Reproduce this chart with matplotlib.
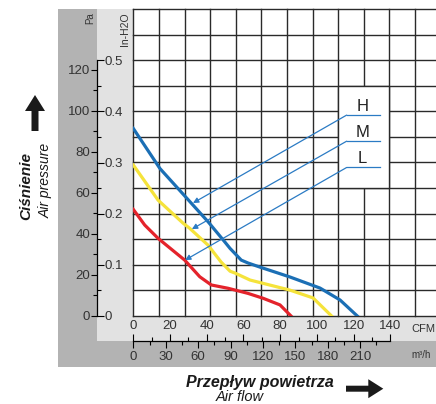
import matplotlib
matplotlib.use('Agg')
import matplotlib.pyplot as plt
from matplotlib.patches import Rectangle, FancyArrow
from matplotlib.ticker import FixedLocator, FixedFormatter

plt.rcParams['font.family'] = ['Liberation Sans', 'DejaVu Sans']

# ---------------- data (CFM, Pa) ----------------
h_cfm = [0, 14.5, 30.9, 40.8, 49.8, 52.7, 58.8, 62.5, 69.0, 85.3, 101.7, 112.6, 122.0]
h_pa = [91.3, 71.8, 55.6, 45.8, 36.1, 32.9, 27.2, 25.8, 23.8, 19.0, 13.6, 7.8, 0]

m_cfm = [0, 13.5, 27.1, 30.7, 40.7, 47.8, 52.7, 55.4, 63.6, 85.3, 97.9, 108.0]
m_pa = [73.5, 56.4, 45.2, 42.7, 34.5, 26.3, 21.8, 20.9, 17.5, 12.6, 8.8, 0]

l_cfm = [0, 6.2, 13.5, 28.0, 36.2, 42.5, 51.6, 62.5, 70.8, 79.9, 85.9]
l_pa = [51.9, 44.3, 37.8, 27.2, 19.1, 15.1, 13.5, 11.0, 8.6, 5.4, 0]

series_names = ['H', 'M', 'L']
series_colors = ['#1b6fb5', '#f5e33b', '#e4232b']

cfm_ticks = [0, 20, 40, 60, 80, 100, 120, 140]
cfm_minor = [10, 30, 50, 70, 90, 110, 130]
m3h_ticks = [0, 30, 60, 90, 120, 150, 180, 210]
m3h_minor = [15, 45, 75, 105, 135, 165, 195, 225]
pa_ticks = [0, 20, 40, 60, 80, 100, 120]
pa_minor = [10, 30, 50, 70, 90, 110]
inh2o_ticks = [0, 0.1, 0.2, 0.3, 0.4, 0.5]
inh2o_labels = ['0', '0.1', '0.2', '0.3', '0.4', '0.5']
inh2o_minor = [0.05, 0.15, 0.25, 0.35, 0.45]

# leader annotations: (label pos), (underline y), (arrow tip)
lab_x = 124.9
lab_y = [102.2, 89.2, 76.7]
line_y = [97.8, 85.1, 72.3]
line_x0, line_x1 = 116.2, 134.4
tips = [(32.5, 55.0), (31.9, 42.3), (28.2, 27.2)]

# ---------------- constants ----------------
PA_PER_INH2O = 249.09
M3H_PER_CFM = 1.699
W, H = 436, 404
X0, Y0, Y1 = 133.3, 316.0, 9.0      # plot left, bottom, top (px)
PX_PER_CFM = 1.836
GDX = 25.6 / PX_PER_CFM
DARK = '#b3b3b3'
LIGHT = '#e2e2e2'
GRID = '#2a2a2a'
LEAD = '#2b7bc4'
TXT = '#333333'
TICKFS = 9.5

fig = plt.figure(figsize=(W / 100, H / 100), dpi=100)


def fx(px):
    return px / W


def fy(py):
    return 1 - py / H


# ---------------- background ----------------
bg = fig.add_axes([0, 0, 1, 1])
bg.set_xlim(0, W)
bg.set_ylim(H, 0)
bg.axis('off')
bg.add_patch(Rectangle((57.7, 9), W - 57.7, 367 - 9, fc=DARK, ec='none'))
bg.add_patch(Rectangle((96.7, 9), X0 - 96.7, 341 - 9, fc=LIGHT, ec='none'))
bg.add_patch(Rectangle((96.7, 316), W - 96.7, 341 - 316, fc=LIGHT, ec='none'))

bg.add_patch(FancyArrow(35, 131, 0, -36, width=7, head_width=20, head_length=16,
                        length_includes_head=True, fc='#1a1a1a', ec='none'))
bg.add_patch(FancyArrow(346, 388.7, 37.3, 0, width=6, head_width=19, head_length=15,
                        length_includes_head=True, fc='#1a1a1a', ec='none'))

bg.text(26.7, 186, 'Ciśnienie', rotation=90, ha='center', va='center',
        fontsize=11, fontweight='bold', fontstyle='italic', color='#1a1a1a')
bg.text(45.7, 180, 'Air pressure', rotation=90, ha='center', va='center',
        fontsize=10, fontstyle='italic', color='#1a1a1a')
bg.text(260, 382, 'Przepływ powietrza', ha='center', va='center',
        fontsize=11.5, fontweight='bold', fontstyle='italic', color='#1a1a1a')
bg.text(240, 397, 'Air flow', ha='center', va='center',
        fontsize=10.5, fontstyle='italic', color='#1a1a1a')
bg.text(90, 18.5, 'Pa', rotation=90, ha='center', va='center', fontsize=7, color=TXT)
bg.text(125, 29, 'In-H2O', rotation=90, ha='center', va='center', fontsize=7.5, color=TXT)
bg.text(423, 329, 'CFM', ha='center', va='center', fontsize=8, color=TXT)
bg.text(421, 355, 'm³/h', ha='center', va='center', fontsize=7, color=TXT)

# ---------------- main plot ----------------
xmax = (W - X0) / PX_PER_CFM
ymax = 0.6 * PA_PER_INH2O
ax = fig.add_axes([fx(X0), fy(Y0), fx(W - X0), (Y0 - Y1) / H])
ax.set_xlim(0, xmax)
ax.set_ylim(0, ymax)
ax.set_xticks([])
ax.set_yticks([])
for s in ax.spines.values():
    s.set_visible(False)
ax.set_facecolor('white')

for k in range(13):
    ax.axhline(k * 0.05 * PA_PER_INH2O, color=GRID, lw=1.0, zorder=1, clip_on=False)
for k in range(12):
    ax.axvline(k * GDX, color=GRID, lw=1.0, zorder=1, clip_on=False)

for xs, ys, c in zip([h_cfm, m_cfm, l_cfm], [h_pa, m_pa, l_pa], series_colors):
    ax.plot(xs, ys, color=c, lw=2.3, zorder=3, solid_joinstyle='round')

ax.add_patch(Rectangle((8 * GDX, 0.25 * PA_PER_INH2O), 2 * GDX, 0.2 * PA_PER_INH2O,
                       fc='white', ec=GRID, lw=1.0, zorder=4))

for name, ly, uy, tip in zip(series_names, lab_y, line_y, tips):
    ax.text(lab_x, ly, name, ha='center', va='center', fontsize=12, color='#222222', zorder=6)
    ax.plot([line_x0, line_x1], [uy, uy], color=LEAD, lw=0.9, zorder=5)
    ax.annotate('', xy=tip, xytext=(line_x0, uy),
                arrowprops=dict(arrowstyle='-|>', color=LEAD, lw=0.9, mutation_scale=8,
                                shrinkA=0, shrinkB=0), zorder=5)

# ---------------- pressure axes ----------------
axp = fig.add_axes([fx(96.7), fy(Y0), 1e-4, (Y0 - Y1) / H])
axi = axp.twinx()
axp.set_ylim(0, ymax)
axp.patch.set_visible(False)
for s in ['top', 'right', 'bottom']:
    axp.spines[s].set_visible(False)
axp.spines['left'].set_bounds(0, 0.5 * PA_PER_INH2O)
axp.spines['left'].set_linewidth(0.9)
axp.set_xticks([])
axp.yaxis.set_ticks_position('left')
axp.yaxis.set_major_locator(FixedLocator(pa_ticks))
axp.yaxis.set_minor_locator(FixedLocator(pa_minor))
axp.tick_params(axis='y', which='both', left=True, right=False,
                labelleft=True, labelright=False)
axp.tick_params(axis='y', which='major', direction='out', length=4.3, width=0.8,
                pad=0.5, labelsize=TICKFS, labelcolor=TXT)
axp.tick_params(axis='y', which='minor', direction='out', length=3, width=0.8)

axi.set_ylim(0, 0.6)
for s in axi.spines.values():
    s.set_visible(False)
axi.yaxis.set_ticks_position('right')
axi.yaxis.set_major_locator(FixedLocator(inh2o_ticks))
axi.yaxis.set_major_formatter(FixedFormatter(inh2o_labels))
axi.yaxis.set_minor_locator(FixedLocator(inh2o_minor))
axi.tick_params(axis='y', which='major', direction='out', length=5, width=0.8,
                pad=0.8, labelsize=TICKFS, labelcolor=TXT)
axi.tick_params(axis='y', which='minor', direction='out', length=3, width=0.8)

# ---------------- flow axes ----------------
axc = fig.add_axes([fx(X0), fy(341), fx(W - X0), 1e-4])
axm = axc.twiny()
axc.set_xlim(0, xmax)
axc.patch.set_visible(False)
for s in ['left', 'right', 'bottom']:
    axc.spines[s].set_visible(False)
axc.spines['top'].set_visible(True)
axc.spines['top'].set_bounds(0, 140)
axc.spines['top'].set_linewidth(0.9)
axc.set_yticks([])
axc.xaxis.set_ticks_position('top')
axc.xaxis.set_major_locator(FixedLocator(cfm_ticks))
axc.xaxis.set_minor_locator(FixedLocator(cfm_minor))
axc.tick_params(axis='x', which='both', top=True, bottom=False,
                labeltop=True, labelbottom=False)
axc.tick_params(axis='x', which='major', direction='out', length=5, width=0.8,
                pad=1.5, labelsize=TICKFS, labelcolor=TXT)
axc.tick_params(axis='x', which='minor', direction='out', length=3, width=0.8)

axm.set_xlim(0, xmax * M3H_PER_CFM)
for s in axm.spines.values():
    s.set_visible(False)
axm.xaxis.set_ticks_position('bottom')
axm.xaxis.set_major_locator(FixedLocator(m3h_ticks))
axm.xaxis.set_minor_locator(FixedLocator(m3h_minor))
axm.tick_params(axis='x', which='both', top=False, bottom=True,
                labelbottom=True, labeltop=False)
axm.tick_params(axis='x', which='major', direction='out', length=5, width=0.8,
                pad=2, labelsize=TICKFS, labelcolor=TXT)
axm.tick_params(axis='x', which='minor', direction='out', length=3, width=0.8)

fig.savefig('out.png', dpi=100)
